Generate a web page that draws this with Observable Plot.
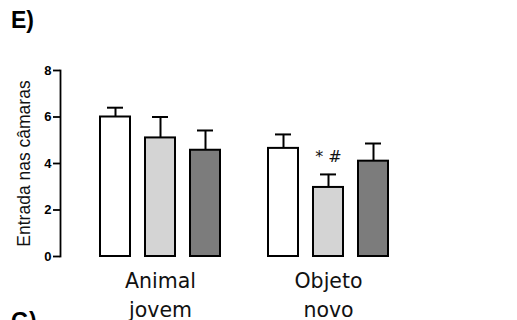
<!DOCTYPE html>
<html>
<head>
<meta charset="utf-8">
<script src="https://cdn.jsdelivr.net/npm/d3@7"></script>
<script src="https://cdn.jsdelivr.net/npm/@observablehq/plot@0.6"></script>
<style>
  html, body { margin: 0; padding: 0; background: #fff; }
  #wrap { position: relative; width: 517px; height: 320px; overflow: hidden; }
  .panel { position: absolute; font: bold 23px "Liberation Sans", Arial, sans-serif; line-height: 23px; color: #000; left: 11px; }
</style>
</head>
<body>
<div id="wrap">
  <div class="panel" style="top:8.5px">E)</div>
  <div class="panel" style="top:310px">G)</div>
</div>
<script>
// Data
const groups = ["Animal jovem", "Objeto novo"];
const groupLabels = ["Animal\njovem", "Objeto\nnovo"];
const series = ["Grupo 1", "Grupo 2", "Grupo 3"];
const seriesColors = ["#ffffff", "#d4d4d4", "#7c7c7c"];
const means = [
  [6.0, 5.1, 4.57],   // Animal jovem
  [4.65, 2.97, 4.1]   // Objeto novo
];
const sems = [
  [0.4, 0.9, 0.85],
  [0.6, 0.56, 0.76]
];
const notes = [
  ["", "", ""],
  ["", "* #", ""]
];
const yTicks = [0, 2, 4, 6, 8];
const yLabel = "Entrada nas câmaras";

const rows = [];
groups.forEach((g, gi) => series.forEach((s, si) => rows.push({
  group: g, series: s, mean: means[gi][si], sem: sems[gi][si], note: notes[gi][si]
})));
const labelRows = groups.map((g, gi) => ({group: g, series: series[1], label: groupLabels[gi]}));

const chart = Plot.plot({
  width: 517,
  height: 320,
  marginLeft: 60,
  marginRight: 129,
  marginTop: 70,
  marginBottom: 64,
  style: {fontFamily: "'Liberation Sans', Arial, sans-serif", background: "#fff", color: "#000"},
  fx: {domain: groups, axis: null, paddingInner: 8 / 168, paddingOuter: 0, align: 0},
  x: {domain: series, axis: null, paddingInner: 1 / 3, paddingOuter: 0, insetLeft: 40},
  y: {domain: [0, 8], axis: null},
  color: {domain: series, range: seriesColors},
  marks: [
    Plot.frame({anchor: "left", facetAnchor: "left", stroke: "#000", strokeWidth: 1.8}),
    Plot.axisY({ticks: yTicks, tickSize: 7, label: null, strokeWidth: 1.8,
      tickFormat: () => "", facetAnchor: "left"}),
    Plot.text(yTicks, {y: d => d, text: d => String(d), frameAnchor: "left", dx: -9,
      textAnchor: "end", lineAnchor: "middle", fontSize: 13, fontWeight: "bold",
      facetAnchor: "left", fill: "#000"}),
    Plot.text([yLabel], {frameAnchor: "left", text: d => d, rotate: -90, dx: -36,
      fontSize: 17.5, lineAnchor: "middle", textAnchor: "middle", facetAnchor: "left", fill: "#111"}),
    Plot.ruleX(rows, {fx: "group", x: "series", y1: "mean", y2: d => d.mean + d.sem,
      stroke: "#000", strokeWidth: 2}),
    Plot.tickY(rows, {fx: "group", x: "series", y: d => d.mean + d.sem,
      stroke: "#000", strokeWidth: 2, insetLeft: 7, insetRight: 7}),
    Plot.barY(rows, {fx: "group", x: "series", y: "mean", fill: "series",
      stroke: "#000", strokeWidth: 2}),
    Plot.text(rows.filter(d => d.note), {fx: "group", x: "series", y: d => d.mean + d.sem,
      text: "note", dy: -18, lineAnchor: "middle", fontSize: 16,
      fontFamily: "'DejaVu Sans', sans-serif", fill: "#111"}),
    Plot.text(labelRows, {fx: "group", x: "series", text: "label", frameAnchor: "bottom",
      lineAnchor: "top", dy: 12, fontSize: 20.5, lineHeight: 1.37,
      fontFamily: "'DejaVu Sans', sans-serif", fill: "#111"})
  ]
});
chart.style.position = "absolute";
chart.style.left = "0";
chart.style.top = "0";
const wrap = document.getElementById("wrap");
wrap.insertBefore(chart, wrap.firstChild);
</script>
</body>
</html>
